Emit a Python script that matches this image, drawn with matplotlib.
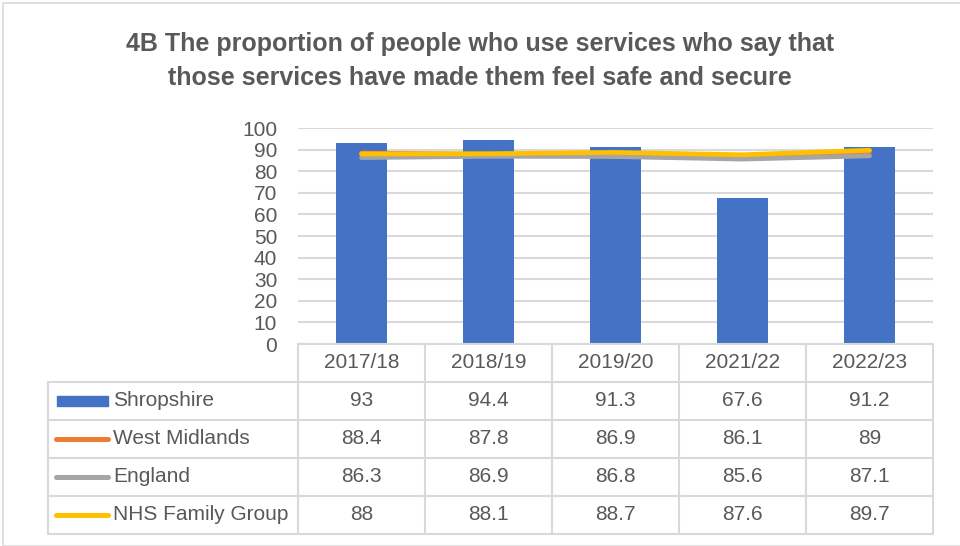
import matplotlib
matplotlib.use("Agg")
from matplotlib import pyplot as plt
from matplotlib.lines import Line2D
from matplotlib.patches import Rectangle
import numpy as np

# данные
years = ["2017/18", "2018/19", "2019/20", "2021/22", "2022/23"]
shropshire = [93, 94.4, 91.3, 67.6, 91.2]
west_midlands = [88.4, 87.8, 86.9, 86.1, 89]
england = [86.3, 86.9, 86.8, 85.6, 87.1]
nhs_family = [88, 88.1, 88.7, 87.6, 89.7]
yticks = list(range(0, 101, 10))

txt = "#595959"
grid = "#d9d9d9"
W, H = 960, 546
fam = ["Liberation Sans", "DejaVu Sans"]

plt.rcParams["font.family"] = fam

fig = plt.figure(figsize=(W / 100, H / 100), dpi=100, facecolor="white")

# рамка вокруг диаграммы
fig.add_artist(Rectangle((3 / W, 0), 1, 1 - 3 / H, transform=fig.transFigure,
                         fill=False, edgecolor="#d9d9d9", linewidth=1.2))

fig.text(0.5, 1 - 44 / H, "4B The proportion of people who use services who say that",
         ha="center", va="center", fontsize=18, fontweight="bold", color=txt)
fig.text(0.5, 1 - 78 / H, "those services have made them feel safe and secure",
         ha="center", va="center", fontsize=18, fontweight="bold", color=txt)

x0, x1 = 298, 933
ytop, ybot = 128, 344
ax = fig.add_axes([x0 / W, 1 - ybot / H, (x1 - x0) / W, (ybot - ytop) / H])
x = np.arange(len(years))
ax.bar(x, shropshire, width=0.4, color="#4472C4", zorder=2)
ax.plot(x, west_midlands, color="#ED7D31", lw=3.4, solid_capstyle="round", zorder=3)
ax.plot(x, england, color="#A5A5A5", lw=3.4, solid_capstyle="round", zorder=3)
ax.plot(x, nhs_family, color="#FFC000", lw=3.4, solid_capstyle="round", zorder=4)
ax.set_xlim(-0.5, len(years) - 0.5)
ax.set_ylim(0, 100)
ax.set_yticks(yticks)
ax.set_yticklabels([str(v) for v in yticks], fontsize=15, color=txt)
ax.set_xticks([])
ax.tick_params(axis="y", length=0, pad=15)
ax.grid(axis="y", color=grid, lw=1.5, zorder=0)
for s in ax.spines.values():
    s.set_visible(False)

# таблица данных
tf = fig.transFigure
def line(xa, ya, xb, yb):
    fig.add_artist(Line2D([xa / W, xb / W], [1 - ya / H, 1 - yb / H],
                          transform=tf, color=grid, lw=1.5))

colw = (x1 - x0) / len(years)
rows = [ybot, 382, 420, 458, 496, 534]
lx = 48
# горизонтальные линии
line(x0, rows[0], x1, rows[0])
for r in rows[1:]:
    line(lx, r, x1, r)
# вертикальные линии
line(lx, rows[1], lx, rows[-1])
for i in range(len(years) + 1):
    line(x0 + i * colw, rows[0], x0 + i * colw, rows[-1])

cell_font = dict(fontsize=15, color=txt, ha="center", va="center")
for i, yr in enumerate(years):
    fig.text((x0 + (i + 0.5) * colw) / W, 1 - (rows[0] + rows[1]) / 2 / H, yr, **cell_font)

series = [("Shropshire", shropshire, "#4472C4", "bar"),
          ("West Midlands", west_midlands, "#ED7D31", "line"),
          ("England", england, "#A5A5A5", "line"),
          ("NHS Family Group", nhs_family, "#FFC000", "line")]
for j, (name, vals, col, kind) in enumerate(series):
    yc = (rows[j + 1] + rows[j + 2]) / 2
    if kind == "bar":
        fig.add_artist(Rectangle((57 / W, 1 - (yc + 5) / H), 51 / W, 10 / H,
                                 transform=tf, color=col))
    else:
        fig.add_artist(Line2D([56 / W, 108 / W], [1 - yc / H, 1 - yc / H],
                              transform=tf, color=col, lw=3.6, solid_capstyle="round"))
    fig.text(113 / W, 1 - yc / H, name, fontsize=15, color=txt, ha="left", va="center")
    for i, v in enumerate(vals):
        fig.text((x0 + (i + 0.5) * colw) / W, 1 - yc / H, f"{v:g}", **cell_font)

fig.savefig("out.png", dpi=100, facecolor="white")
